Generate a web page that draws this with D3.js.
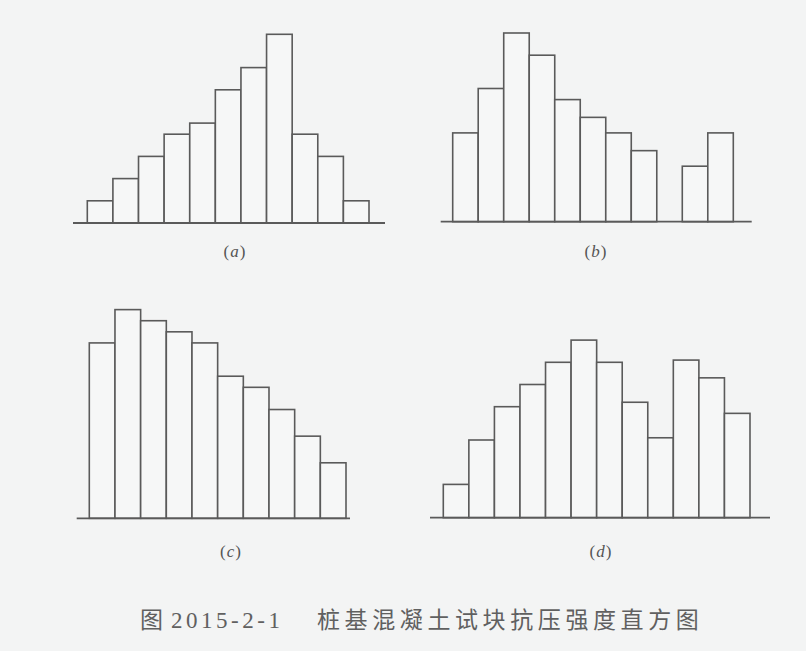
<!DOCTYPE html>
<html>
<head>
<meta charset="utf-8">
<script src="https://cdn.jsdelivr.net/npm/d3@7"></script>
<style>
  body { margin: 0; background: #f3f4f4; }
  svg { display: block; }
</style>
</head>
<body>
<div id="canvas"></div>
<script>
// bar heights (frequency, arbitrary units)
const valuesA = [1, 2, 3, 4, 4.5, 6, 7, 8.5, 4, 3, 1];
const valuesB = [4, 6, 8.5, 7.5, 5.5, 4.7, 4, 3.2, 0, 2.5, 4];
const valuesC = [7.9, 9.4, 8.9, 8.4, 7.9, 6.4, 5.9, 4.9, 3.7, 2.5];
const valuesD = [1.5, 3.5, 5, 6, 7, 8, 7, 5.2, 3.6, 7.1, 6.3, 4.7];
const panelLabels = ["a", "b", "c", "d"];
const titleFig = "图";
const titleNum = "2015-2-1";
const titleText = "桩基混凝土试块抗压强度直方图";

const width = 806;
const height = 651;
const stroke = "#5a5a5a";

const svg = d3.select("#canvas").append("svg")
    .attr("width", width)
    .attr("height", height);

svg.append("rect")
    .attr("width", width)
    .attr("height", height)
    .attr("fill", "#f3f4f4");

// layout of each small histogram
const panels = [
    { values: valuesA, label: panelLabels[0], base: 223, axis: [73, 385], bars: [87.3, 369], lx: 235, ly: 257 },
    { values: valuesB, label: panelLabels[1], base: 221.7, axis: [440.7, 751.7], bars: [452.7, 733.3], lx: 596, ly: 257 },
    { values: valuesC, label: panelLabels[2], base: 518.3, axis: [76.7, 350], bars: [89.3, 346], lx: 231, ly: 557 },
    { values: valuesD, label: panelLabels[3], base: 517.7, axis: [430, 770], bars: [443.3, 750], lx: 601, ly: 557 }
];

panels.forEach(p => {
    const g = svg.append("g");

    const x = d3.scaleBand()
        .domain(p.values.map((d, i) => i))
        .range(p.bars)
        .paddingInner(0)
        .paddingOuter(0);

    const y = d3.scaleLinear()
        .domain([0, 10])
        .range([p.base, p.base - 222]);

    // empty bins get no box
    g.selectAll("rect.bar")
        .data(p.values.map((v, i) => ({ v, i })).filter(d => d.v > 0))
        .enter().append("rect")
        .attr("class", "bar")
        .attr("x", d => x(d.i))
        .attr("y", d => y(d.v))
        .attr("width", x.bandwidth())
        .attr("height", d => y(0) - y(d.v))
        .attr("fill", "#f6f7f7")
        .attr("stroke", stroke)
        .attr("stroke-width", 1.6);

    g.append("line")
        .attr("x1", p.axis[0])
        .attr("x2", p.axis[1])
        .attr("y1", y(0))
        .attr("y2", y(0))
        .attr("stroke", stroke)
        .attr("stroke-width", 1.8);

    const t = g.append("text")
        .attr("x", p.lx)
        .attr("y", p.ly)
        .attr("text-anchor", "middle")
        .attr("font-family", "Liberation Serif")
        .attr("font-size", 17)
        .attr("letter-spacing", 1)
        .attr("fill", "#555");
    t.append("tspan").text("(");
    t.append("tspan").attr("font-style", "italic").text(p.label);
    t.append("tspan").text(")");
});

// caption
const cap = svg.append("g")
    .attr("fill", "#606060")
    .attr("font-size", 23);

cap.append("text")
    .attr("x", 140)
    .attr("y", 628)
    .attr("font-family", "Noto Sans CJK SC")
    .text(titleFig);

cap.append("text")
    .attr("x", 171)
    .attr("y", 628)
    .attr("font-family", "Liberation Serif")
    .attr("textLength", 109)
    .attr("lengthAdjust", "spacing")
    .text(titleNum);

cap.append("text")
    .attr("x", 317)
    .attr("y", 628)
    .attr("font-family", "Noto Sans CJK SC")
    .attr("letter-spacing", 4.6)
    .text(titleText);
</script>
</body>
</html>
